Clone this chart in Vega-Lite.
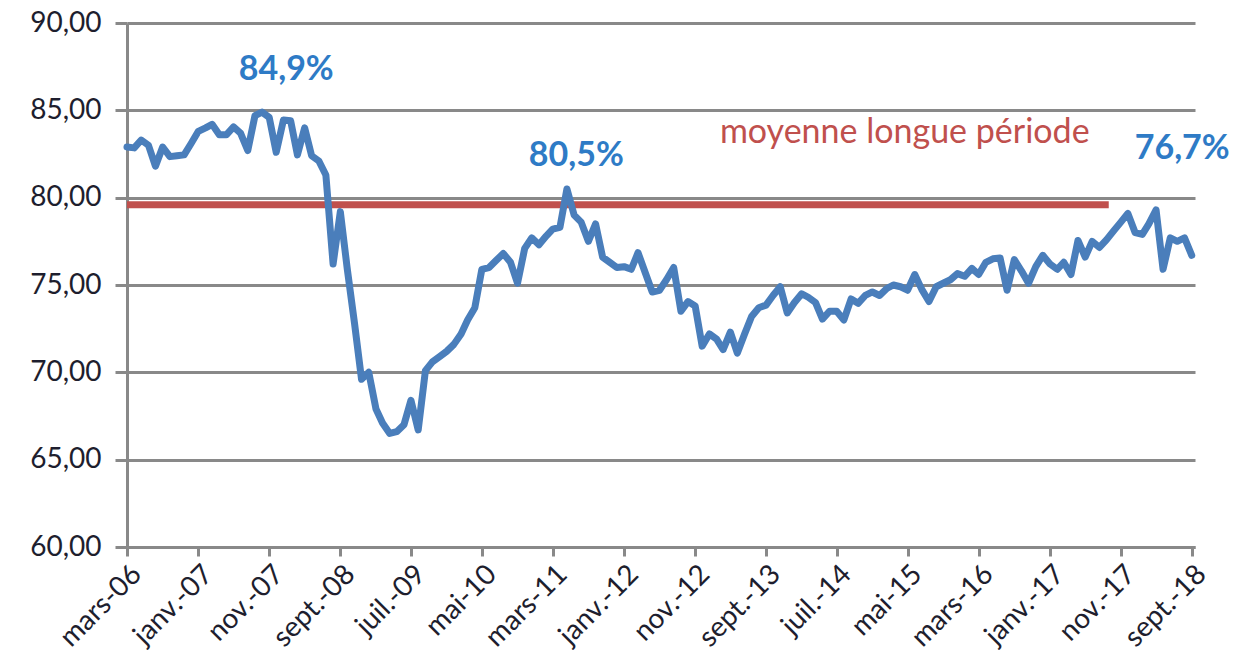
{
  "$schema": "https://vega.github.io/schema/vega-lite/v6.json",
  "width": 1068,
  "height": 524,
  "autosize": {"type": "none"},
  "padding": {"left": 127, "top": 23, "right": 45, "bottom": 123},
  "background": "white",
  "config": {"view": {"stroke": null}, "font": "Lato"},
  "datasets": {
    "rate": [
      {"date":"2006-03-01","v":82.9},{"date":"2006-04-01","v":82.85},{"date":"2006-05-01","v":83.3},{"date":"2006-06-01","v":83.0},
      {"date":"2006-07-01","v":81.8},{"date":"2006-08-01","v":82.9},{"date":"2006-09-01","v":82.35},{"date":"2006-10-01","v":82.4},
      {"date":"2006-11-01","v":82.45},{"date":"2006-12-01","v":83.1},{"date":"2007-01-01","v":83.8},{"date":"2007-02-01","v":84.0},
      {"date":"2007-03-01","v":84.2},{"date":"2007-04-01","v":83.6},{"date":"2007-05-01","v":83.6},{"date":"2007-06-01","v":84.05},
      {"date":"2007-07-01","v":83.7},{"date":"2007-08-01","v":82.7},{"date":"2007-09-01","v":84.7},{"date":"2007-10-01","v":84.9},
      {"date":"2007-11-01","v":84.6},{"date":"2007-12-01","v":82.6},{"date":"2008-01-01","v":84.45},{"date":"2008-02-01","v":84.4},
      {"date":"2008-03-01","v":82.45},{"date":"2008-04-01","v":84.0},{"date":"2008-05-01","v":82.4},{"date":"2008-06-01","v":82.1},
      {"date":"2008-07-01","v":81.3},{"date":"2008-08-01","v":76.2},{"date":"2008-09-01","v":79.2},{"date":"2008-10-01","v":75.9},
      {"date":"2008-11-01","v":72.8},{"date":"2008-12-01","v":69.6},{"date":"2009-01-01","v":70.0},{"date":"2009-02-01","v":67.9},
      {"date":"2009-03-01","v":67.1},{"date":"2009-04-01","v":66.5},{"date":"2009-05-01","v":66.6},{"date":"2009-06-01","v":67.0},
      {"date":"2009-07-01","v":68.4},{"date":"2009-08-01","v":66.7},{"date":"2009-09-01","v":70.1},{"date":"2009-10-01","v":70.6},
      {"date":"2009-11-01","v":70.9},{"date":"2009-12-01","v":71.2},{"date":"2010-01-01","v":71.6},{"date":"2010-02-01","v":72.2},
      {"date":"2010-03-01","v":73.0},{"date":"2010-04-01","v":73.7},{"date":"2010-05-01","v":75.9},{"date":"2010-06-01","v":76.0},
      {"date":"2010-07-01","v":76.4},{"date":"2010-08-01","v":76.8},{"date":"2010-09-01","v":76.3},{"date":"2010-10-01","v":75.1},
      {"date":"2010-11-01","v":77.1},{"date":"2010-12-01","v":77.7},{"date":"2011-01-01","v":77.3},{"date":"2011-02-01","v":77.8},
      {"date":"2011-03-01","v":78.2},{"date":"2011-04-01","v":78.3},{"date":"2011-05-01","v":80.5},{"date":"2011-06-01","v":79.0},
      {"date":"2011-07-01","v":78.6},{"date":"2011-08-01","v":77.5},{"date":"2011-09-01","v":78.5},{"date":"2011-10-01","v":76.6},
      {"date":"2011-11-01","v":76.3},{"date":"2011-12-01","v":76.0},{"date":"2012-01-01","v":76.05},{"date":"2012-02-01","v":75.9},
      {"date":"2012-03-01","v":76.85},{"date":"2012-04-01","v":75.7},{"date":"2012-05-01","v":74.6},{"date":"2012-06-01","v":74.7},
      {"date":"2012-07-01","v":75.3},{"date":"2012-08-01","v":76.0},{"date":"2012-09-01","v":73.5},{"date":"2012-10-01","v":74.05},
      {"date":"2012-11-01","v":73.8},{"date":"2012-12-01","v":71.5},{"date":"2013-01-01","v":72.2},{"date":"2013-02-01","v":71.9},
      {"date":"2013-03-01","v":71.3},{"date":"2013-04-01","v":72.3},{"date":"2013-05-01","v":71.1},{"date":"2013-06-01","v":72.2},
      {"date":"2013-07-01","v":73.2},{"date":"2013-08-01","v":73.7},{"date":"2013-09-01","v":73.85},{"date":"2013-10-01","v":74.4},
      {"date":"2013-11-01","v":74.9},{"date":"2013-12-01","v":73.4},{"date":"2014-01-01","v":74.0},{"date":"2014-02-01","v":74.5},
      {"date":"2014-03-01","v":74.3},{"date":"2014-04-01","v":74.0},{"date":"2014-05-01","v":73.05},{"date":"2014-06-01","v":73.5},
      {"date":"2014-07-01","v":73.5},{"date":"2014-08-01","v":73.0},{"date":"2014-09-01","v":74.2},{"date":"2014-10-01","v":73.95},
      {"date":"2014-11-01","v":74.4},{"date":"2014-12-01","v":74.6},{"date":"2015-01-01","v":74.4},{"date":"2015-02-01","v":74.8},
      {"date":"2015-03-01","v":75.0},{"date":"2015-04-01","v":74.9},{"date":"2015-05-01","v":74.7},{"date":"2015-06-01","v":75.6},
      {"date":"2015-07-01","v":74.75},{"date":"2015-08-01","v":74.05},{"date":"2015-09-01","v":74.9},{"date":"2015-10-01","v":75.1},
      {"date":"2015-11-01","v":75.3},{"date":"2015-12-01","v":75.65},{"date":"2016-01-01","v":75.5},{"date":"2016-02-01","v":75.95},
      {"date":"2016-03-01","v":75.6},{"date":"2016-04-01","v":76.3},{"date":"2016-05-01","v":76.5},{"date":"2016-06-01","v":76.55},
      {"date":"2016-07-01","v":74.7},{"date":"2016-08-01","v":76.45},{"date":"2016-09-01","v":75.8},{"date":"2016-10-01","v":75.1},
      {"date":"2016-11-01","v":76.05},{"date":"2016-12-01","v":76.7},{"date":"2017-01-01","v":76.2},{"date":"2017-02-01","v":75.9},
      {"date":"2017-03-01","v":76.3},{"date":"2017-04-01","v":75.6},{"date":"2017-05-01","v":77.55},{"date":"2017-06-01","v":76.6},
      {"date":"2017-07-01","v":77.5},{"date":"2017-08-01","v":77.15},{"date":"2017-09-01","v":77.6},{"date":"2017-10-01","v":78.1},
      {"date":"2017-11-01","v":78.6},{"date":"2017-12-01","v":79.1},{"date":"2018-01-01","v":78.0},{"date":"2018-02-01","v":77.9},
      {"date":"2018-03-01","v":78.5},{"date":"2018-04-01","v":79.3},{"date":"2018-05-01","v":75.9},{"date":"2018-06-01","v":77.7},
      {"date":"2018-07-01","v":77.5},{"date":"2018-08-01","v":77.7},{"date":"2018-09-01","v":76.7}
    ],
    "avg": [{"start":"2006-03-01","end":"2017-09-10","avg":79.6}],
    "peaks": [
      {"date":"2008-01-13","v":87.3,"label":"84,9%"},
      {"date":"2011-06-10","v":82.4,"label":"80,5%"},
      {"date":"2018-07-22","v":82.8,"label":"76,7%"}
    ],
    "note": [{"date":"2015-04-19","v":83.7,"label":"moyenne longue période"}]
  },
  "layer": [
    {
      "data": {"name": "avg"},
      "mark": {"type": "rule", "color": "#C0504D", "strokeWidth": 7, "strokeCap": "butt"},
      "encoding": {
        "x": {
          "field": "start", "type": "temporal",
          "scale": {"type": "utc", "domain": [{"year":2006,"month":3,"date":1,"utc":true},{"year":2018,"month":9,"date":15,"utc":true}]},
          "axis": {
            "title": null,
            "values": [
              {"year":2006,"month":3,"date":1,"utc":true},{"year":2007,"month":1,"date":1,"utc":true},
              {"year":2007,"month":11,"date":1,"utc":true},{"year":2008,"month":9,"date":1,"utc":true},
              {"year":2009,"month":7,"date":1,"utc":true},{"year":2010,"month":5,"date":1,"utc":true},
              {"year":2011,"month":3,"date":1,"utc":true},{"year":2012,"month":1,"date":1,"utc":true},
              {"year":2012,"month":11,"date":1,"utc":true},{"year":2013,"month":9,"date":1,"utc":true},
              {"year":2014,"month":7,"date":1,"utc":true},{"year":2015,"month":5,"date":1,"utc":true},
              {"year":2016,"month":3,"date":1,"utc":true},{"year":2017,"month":1,"date":1,"utc":true},
              {"year":2017,"month":11,"date":1,"utc":true},{"year":2018,"month":9,"date":1,"utc":true}
            ],
            "labelExpr": "['janv.','févr.','mars','avr.','mai','juin','juil.','août','sept.','oct.','nov.','déc.'][utcmonth(datum.value)] + '-' + utcFormat(datum.value, '%y')",
            "labelAngle": -45,
            "labelFontSize": 28,
            "labelColor": "#1e1e2e",
            "labelFont": "Lato",
            "labelOverlap": false,
            "labelBound": false,
            "labelFlush": false,
            "labelPadding": 4,
            "grid": false,
            "domainColor": "#898989",
            "domainWidth": 3,
            "tickColor": "#898989",
            "tickWidth": 3,
            "tickSize": 9
          }
        },
        "x2": {"field": "end"},
        "y": {
          "field": "avg", "type": "quantitative",
          "scale": {"domain": [60, 90], "nice": false, "zero": false},
          "axis": {
            "title": null,
            "values": [60, 65, 70, 75, 80, 85, 90],
            "labelExpr": "replace(format(datum.value, '.2f'), '.', ',')",
            "labelFontSize": 28,
            "labelColor": "#1e1e2e",
            "labelFont": "Lato",
            "labelPadding": 14,
            "grid": true,
            "gridColor": "#898989",
            "gridWidth": 3,
            "domainColor": "#898989",
            "domainWidth": 3,
            "tickColor": "#898989",
            "tickWidth": 3,
            "tickSize": 12
          }
        }
      }
    },
    {
      "data": {"name": "rate"},
      "mark": {"type": "line", "color": "#4A7EBB", "strokeWidth": 7, "strokeJoin": "round", "strokeCap": "round"},
      "encoding": {
        "x": {"field": "date", "type": "temporal"},
        "y": {"field": "v", "type": "quantitative"}
      }
    },
    {
      "data": {"name": "peaks"},
      "mark": {"type": "text", "color": "#2E7BC6", "fontWeight": "bold", "fontSize": 34, "align": "center", "baseline": "middle", "font": "Lato"},
      "encoding": {
        "x": {"field": "date", "type": "temporal"},
        "y": {"field": "v", "type": "quantitative"},
        "text": {"field": "label"}
      }
    },
    {
      "data": {"name": "note"},
      "mark": {"type": "text", "color": "#C0504D", "fontSize": 34, "align": "center", "baseline": "middle", "font": "Lato"},
      "encoding": {
        "x": {"field": "date", "type": "temporal"},
        "y": {"field": "v", "type": "quantitative"},
        "text": {"field": "label"}
      }
    }
  ]
}
